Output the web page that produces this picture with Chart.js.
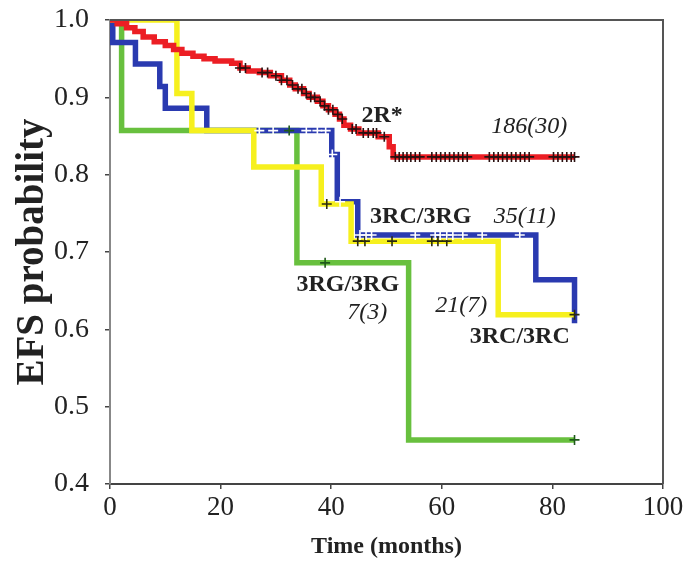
<!DOCTYPE html>
<html>
<head>
<meta charset="utf-8">
<title>EFS probability</title>
<script src="https://cdn.jsdelivr.net/npm/chart.js@4.4.1/dist/chart.umd.min.js"></script>
<style>
  body { margin: 0; background: #fff; }
</style>
</head>
<body>
<canvas id="efsChart" width="683" height="562"></canvas>
<script>
// Kaplan-Meier step data: event times (months) and survival after each event
const redTimes = [0, 1.3, 3, 4.5, 6, 8, 10, 11.5, 13, 15, 17, 19, 22, 23.5, 25, 27, 29, 31, 32.5, 33.5, 35, 36, 37.5, 38.5, 39.5, 40.7, 41.5, 42.3, 43.5, 45, 48.5, 50.5, 51.2, 84];
const redSurv  = [1.0, 0.995, 0.99, 0.985, 0.978, 0.972, 0.967, 0.962, 0.957, 0.953, 0.95, 0.947, 0.944, 0.938, 0.934, 0.932, 0.928, 0.922, 0.916, 0.911, 0.905, 0.9, 0.895, 0.889, 0.884, 0.878, 0.872, 0.864, 0.859, 0.854, 0.849, 0.836, 0.823, 0.823];

const blueTimes = [0, 0.5, 4.6, 9, 10, 17.5, 40.1, 41.1, 44.8, 77, 84];
const blueSurv  = [1.0, 0.971, 0.943, 0.914, 0.886, 0.857, 0.826, 0.765, 0.722, 0.664, 0.608];

const yellowTimes = [0, 12.1, 14.8, 26, 38.2, 43.6, 70.2, 84];
const yellowSurv  = [1.0, 0.905, 0.857, 0.81, 0.762, 0.714, 0.619, 0.619];

const greenTimes = [0, 2.1, 33.8, 54, 84];
const greenSurv  = [1.0, 0.857, 0.686, 0.457, 0.457];

// censored observations (months)
const redCensor = [23.5, 24.5, 27.5, 28.5, 30, 31, 32, 33, 34, 34.7, 35.5, 36.3, 37, 38, 38.8, 39.5, 40.3, 41.2, 42, 43.8, 44.5, 45.8, 46.7, 47.6, 48.2, 49.6,
  51.6, 52.3, 53, 53.7, 54.4, 55.2, 56, 58.2, 59, 59.8, 60.6, 61.4, 62.2, 63, 63.8, 64.6,
  68.6, 69.4, 70.2, 71, 71.8, 72.6, 73.4, 74.2, 75, 75.8, 80.2, 81, 81.8, 82.6, 83.4, 84];
const blueCensor = [27, 29.5, 35.5, 37.5, 39, 40.2, 41.6, 45.2, 46.3, 47.3, 55.2, 58.8, 59.7, 60.9, 62, 63.8, 67.3, 74.1];
const yellowCensor = [39.2, 44.8, 46.1, 51, 58.2, 59.3, 60.9, 84];
const greenCensor = [32.4, 38.9, 84];

const xTicks = [0, 20, 40, 60, 80, 100];
const yTicks = [0.4, 0.5, 0.6, 0.7, 0.8, 0.9, 1.0];

// group labels and risk counts
const groupLabels = [
  { text: '2R*', x: 49.2, y: 0.876, bold: true },
  { text: '186(30)', x: 75.8, y: 0.862, bold: false },
  { text: '3RC/3RG', x: 56.2, y: 0.745, bold: true },
  { text: '35(11)', x: 75.0, y: 0.746, bold: false },
  { text: '3RG/3RG', x: 43.0, y: 0.657, bold: true },
  { text: '7(3)', x: 46.5, y: 0.622, bold: false },
  { text: '21(7)', x: 63.5, y: 0.630, bold: false },
  { text: '3RC/3RC', x: 74.1, y: 0.590, bold: true }
];

function toPoints(times, surv) {
  return times.map((t, i) => ({ x: t, y: surv[i] }));
}

// survival value of a step curve at time t
function survAt(times, surv, t) {
  let s = surv[0];
  for (let i = 0; i < times.length; i++) {
    if (times[i] <= t) s = surv[i];
  }
  return s;
}

function censorPoints(censor, times, surv) {
  return censor.map(t => ({ x: t, y: survAt(times, surv, t) }));
}

const RED = 'rgb(236, 30, 36)';
const BLUE = 'rgb(42, 58, 176)';
const YELLOW = 'rgb(246, 240, 30)';
const GREEN = 'rgb(104, 192, 62)';

function stepLine(label, times, surv, color, order) {
  return {
    type: 'line',
    label: label,
    data: toPoints(times, surv),
    borderColor: color,
    borderWidth: 5.5,
    stepped: true,
    pointRadius: 0,
    fill: false,
    order: order
  };
}

function censorSet(label, censor, times, surv, color, order) {
  return {
    type: 'scatter',
    label: label,
    data: censorPoints(censor, times, surv),
    pointStyle: 'cross',
    pointRadius: 5,
    pointBorderWidth: 1.6,
    pointBorderColor: color,
    pointBackgroundColor: color,
    order: order
  };
}

const serif = '"Liberation Serif", "Times New Roman", serif';

const frameAndLabels = {
  id: 'frameAndLabels',
  afterDraw(chart) {
    const ctx = chart.ctx;
    const a = chart.chartArea;
    ctx.save();
    ctx.strokeStyle = '#555';
    ctx.lineWidth = 2;
    ctx.beginPath();
    ctx.moveTo(a.left, a.top);
    ctx.lineTo(a.right, a.top);
    ctx.lineTo(a.right, a.bottom);
    ctx.stroke();

    const xs = chart.scales.x, ys = chart.scales.y;
    ctx.fillStyle = '#222';
    ctx.textAlign = 'center';
    ctx.textBaseline = 'middle';
    groupLabels.forEach(l => {
      ctx.font = (l.bold ? 'bold ' : 'italic ') + '24px ' + serif;
      ctx.fillText(l.text, xs.getPixelForValue(l.x), ys.getPixelForValue(l.y));
    });
    ctx.restore();
  }
};

new Chart(document.getElementById('efsChart'), {
  data: {
    datasets: [
      censorSet('2R* censored', redCensor, redTimes, redSurv, '#2a1010', 0),
      censorSet('3RC/3RG censored', blueCensor, blueTimes, blueSurv, '#ffffff', 1),
      censorSet('3RC/3RC censored', yellowCensor, yellowTimes, yellowSurv, '#2a2a10', 2),
      censorSet('3RG/3RG censored', greenCensor, greenTimes, greenSurv, '#1f5a1a', 3),
      stepLine('2R*', redTimes, redSurv, RED, 4),
      stepLine('3RC/3RC', yellowTimes, yellowSurv, YELLOW, 5),
      stepLine('3RC/3RG', blueTimes, blueSurv, BLUE, 6),
      stepLine('3RG/3RG', greenTimes, greenSurv, GREEN, 7)
    ]
  },
  options: {
    responsive: false,
    animation: false,
    devicePixelRatio: 1,
    layout: { padding: { top: 20, right: 20, left: 0, bottom: 0 } },
    plugins: {
      legend: { display: false },
      tooltip: { enabled: false }
    },
    scales: {
      x: {
        type: 'linear',
        min: 0,
        max: 100,
        afterFit: s => { s.height = 78; s.paddingLeft = 0; s.paddingRight = 0; },
        afterBuildTicks: s => { s.ticks = xTicks.map(v => ({ value: v })); },
        ticks: {
          color: '#222',
          padding: 3,
          font: { family: serif, size: 27 }
        },
        grid: { drawOnChartArea: false, tickLength: 5, color: '#444', lineWidth: 1.5 },
        border: { color: '#444', width: 2 },
        title: {
          display: true,
          text: 'Time (months)',
          color: '#222',
          padding: { top: 0, bottom: 1 },
          font: { family: serif, size: 24, weight: 'bold' }
        }
      },
      y: {
        type: 'linear',
        min: 0.4,
        max: 1.0,
        afterFit: s => { s.width = 110; s.paddingTop = 0; s.paddingBottom = 0; },
        afterBuildTicks: s => { s.ticks = yTicks.map(v => ({ value: v })); },
        ticks: {
          color: '#222',
          padding: 16,
          font: { family: serif, size: 28 },
          callback: v => Number(v).toFixed(1)
        },
        grid: { drawOnChartArea: false, tickLength: 5, color: '#444', lineWidth: 1.5 },
        border: { color: '#888', width: 2 },
        title: {
          display: true,
          text: 'EFS probability',
          color: '#222',
          padding: { top: 10, bottom: 0 },
          font: { family: serif, size: 39, weight: 'bold' }
        }
      }
    }
  },
  plugins: [frameAndLabels]
});
</script>
</body>
</html>
